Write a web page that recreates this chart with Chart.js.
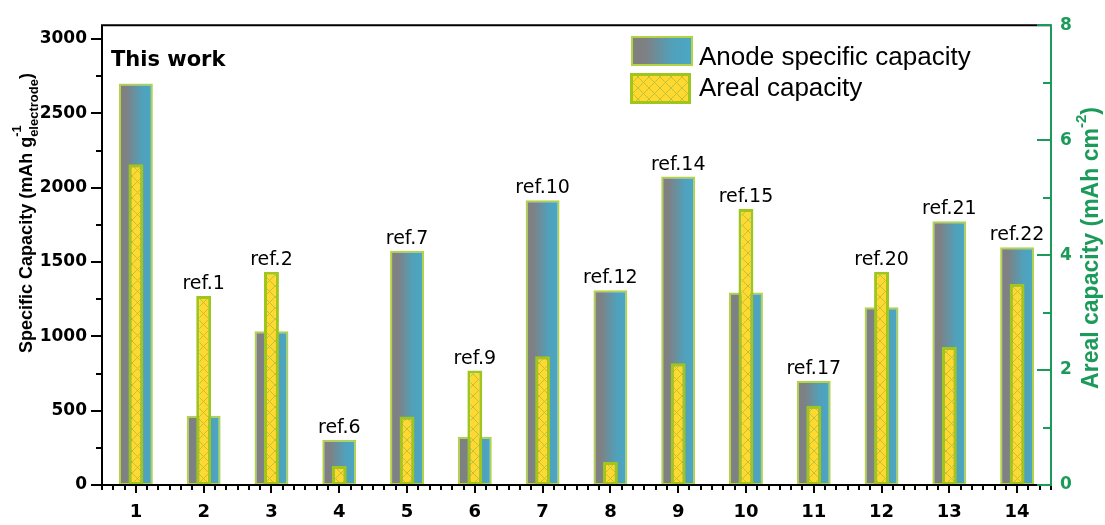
<!DOCTYPE html>
<html>
<head>
<meta charset="utf-8">
<script src="https://cdn.jsdelivr.net/npm/chart.js@4.4.1/dist/chart.umd.min.js"></script>
<style>
  html, body { margin: 0; padding: 0; background: #ffffff; }
  #wrap { width: 1105px; height: 525px; }
</style>
</head>
<body>
<div id="wrap"><canvas id="chart" width="1105" height="525"></canvas></div>
<script>
// Samples compared on the x axis
const samples = ['1', '2', '3', '4', '5', '6', '7', '8', '9', '10', '11', '12', '13', '14'];
// Anode specific capacity, mAh g^-1 (electrode)
const anodeCapacity = [2700, 465, 1035, 305, 1575, 325, 1915, 1310, 2075, 1295, 700, 1195, 1775, 1600];
// Areal capacity, mAh cm^-2
const arealCapacity = [5.58, 3.29, 3.71, 0.33, 1.19, 1.99, 2.24, 0.40, 2.12, 4.80, 1.38, 3.71, 2.40, 3.50];
// Source of each sample
const sourceLabels = ['This work', 'ref.1', 'ref.2', 'ref.6', 'ref.7', 'ref.9', 'ref.10', 'ref.12', 'ref.14', 'ref.15', 'ref.17', 'ref.20', 'ref.21', 'ref.22'];
// Axis ticks
const leftTicks = [0, 500, 1000, 1500, 2000, 2500, 3000];
const leftMinorTicks = [250, 750, 1250, 1750, 2250, 2750];
const rightTicks = [0, 2, 4, 6, 8];
const rightMinorTicks = [1, 3, 5, 7];

const GREEN = '#1b9a59';
const SANS = '"DejaVu Sans", sans-serif';
const ARIAL = '"Liberation Sans", Arial, sans-serif';

const canvas = document.getElementById('chart');
const ctx2d = canvas.getContext('2d');

// Cross-hatched yellow fill
function makeHatch() {
  const s = 11;
  const c = document.createElement('canvas');
  c.width = s; c.height = s;
  const g = c.getContext('2d');
  g.fillStyle = '#ffd92f';
  g.fillRect(0, 0, s, s);
  g.strokeStyle = '#c0c23a';
  g.lineWidth = 1;
  g.beginPath();
  g.moveTo(0, 0); g.lineTo(s, s);
  g.moveTo(0, s); g.lineTo(s, 0);
  g.stroke();
  return ctx2d.createPattern(c, 'repeat');
}
const hatch = makeHatch();

function greyBlue(ctx, x0, x1) {
  const g = ctx.createLinearGradient(x0, 0, x1, 0);
  g.addColorStop(0, '#808080');
  g.addColorStop(0.22, '#7f8083');
  g.addColorStop(0.68, '#50a1bb');
  g.addColorStop(1, '#4aa7c5');
  return g;
}

const ANODE_PCT = 0.5;
const AREAL_PCT = 0.22;

// Each anode bar gets its own left-to-right grey/blue gradient
function anodeFill(context) {
  const chart = context.chart;
  const xs = chart.scales.x;
  if (!xs || !chart.chartArea || context.dataIndex === undefined) return '#6a95a5';
  const cx = xs.getPixelForValue(context.dataIndex);
  const half = (xs.width / samples.length) * ANODE_PCT / 2;
  if (!isFinite(cx) || !isFinite(half) || half <= 0) return '#6a95a5';
  return greyBlue(chart.ctx, cx - half, cx + half);
}

// Rotated axis title made of [text, font, dy, advance] pieces, centred on (cx, cy)
function rotatedTitle(ctx, cx, cy, pieces, color) {
  ctx.save();
  ctx.translate(cx, cy);
  ctx.rotate(-Math.PI / 2);
  ctx.textAlign = 'left';
  ctx.textBaseline = 'middle';
  ctx.fillStyle = color;
  let total = 0;
  const widths = pieces.map(p => { ctx.font = p.font; const w = ctx.measureText(p.text).width; if (p.advance !== false) total += w; return w; });
  let x = -total / 2;
  pieces.forEach((p, i) => {
    ctx.font = p.font;
    ctx.fillText(p.text, x, p.dy || 0);
    if (p.advance !== false) x += widths[i];
  });
  ctx.restore();
}

const decor = {
  id: 'decor',
  afterDraw(chart) {
    const ctx = chart.ctx;
    const { left, right, top, bottom } = chart.chartArea;
    const xs = chart.scales.x, yl = chart.scales.y, yr = chart.scales.y2;
    ctx.save();
    ctx.lineCap = 'butt';

    // frame: top + left + bottom in black
    ctx.strokeStyle = '#000';
    ctx.lineWidth = 2;
    ctx.beginPath();
    ctx.moveTo(left, top); ctx.lineTo(right, top);
    ctx.moveTo(left, top - 1); ctx.lineTo(left, bottom + 1);
    ctx.moveTo(left - 1, bottom); ctx.lineTo(right, bottom);
    ctx.stroke();

    // left axis ticks (outward)
    ctx.beginPath();
    leftTicks.forEach(v => { const y = Math.round(yl.getPixelForValue(v)); ctx.moveTo(left - 11, y); ctx.lineTo(left, y); });
    leftMinorTicks.forEach(v => { const y = Math.round(yl.getPixelForValue(v)); ctx.moveTo(left - 6, y); ctx.lineTo(left, y); });
    ctx.stroke();

    // bottom axis ticks: major at each sample, minor every sixth
    const step = xs.width / samples.length;
    ctx.beginPath();
    samples.forEach((s, i) => {
      const cx = xs.getPixelForValue(i);
      ctx.moveTo(Math.round(cx), bottom); ctx.lineTo(Math.round(cx), bottom + 8);
      for (let k = -3; k <= 3; k++) {
        if (k === 0 || (k === -3 && i > 0)) continue;
        const x = Math.round(cx + k * step / 6);
        ctx.moveTo(x, bottom); ctx.lineTo(x, bottom + 5);
      }
    });
    ctx.stroke();

    // right axis in green, ticks pointing inward
    ctx.strokeStyle = GREEN;
    ctx.beginPath();
    ctx.moveTo(right, top - 1); ctx.lineTo(right, bottom + 1);
    rightTicks.forEach(v => { const y = Math.round(yr.getPixelForValue(v)); ctx.moveTo(right - 14, y); ctx.lineTo(right, y); });
    rightMinorTicks.forEach(v => { const y = Math.round(yr.getPixelForValue(v)); ctx.moveTo(right - 8, y); ctx.lineTo(right, y); });
    ctx.stroke();

    // source labels above each pair of bars
    ctx.fillStyle = '#000';
    ctx.font = '19px ' + SANS;
    ctx.textAlign = 'center';
    ctx.textBaseline = 'alphabetic';
    const mA = chart.getDatasetMeta(1), mB = chart.getDatasetMeta(0);
    sourceLabels.forEach((lab, i) => {
      if (i === 0) return;
      const topY = Math.min(mA.data[i].y, mB.data[i].y);
      ctx.fillText(lab, xs.getPixelForValue(i), topY - 7);
    });
    ctx.textAlign = 'left';
    ctx.font = 'bold 21px ' + SANS;
    ctx.fillText(sourceLabels[0], left + 9, top + 41);

    // legend
    ctx.lineJoin = 'miter';
    ctx.fillStyle = greyBlue(ctx, 632, 692);
    ctx.fillRect(632, 37, 60, 28);
    ctx.strokeStyle = '#b2d344';
    ctx.lineWidth = 2;
    ctx.strokeRect(632, 37, 60, 28);
    ctx.fillStyle = hatch;
    ctx.fillRect(631, 74, 59, 29);
    ctx.strokeStyle = '#a0c51d';
    ctx.lineWidth = 3;
    ctx.strokeRect(631.5, 74.5, 58, 28);
    ctx.fillStyle = '#000';
    ctx.font = '26px ' + ARIAL;
    ctx.fillText('Anode specific capacity', 699, 65);
    ctx.fillText('Areal capacity', 699, 96);

    // axis titles
    const lMain = 'bold 18px ' + ARIAL, lSmall = 'bold 13px ' + ARIAL;
    rotatedTitle(ctx, 27, 213, [
      { text: 'Specific Capacity (mAh g', font: lMain },
      { text: '-1', font: lSmall, dy: -10, advance: false },
      { text: 'electrode', font: lSmall, dy: 7 },
      { text: ')', font: lMain }
    ], '#000');

    const rMain = 'bold 23px ' + ARIAL, rSmall = 'bold 15px ' + ARIAL;
    rotatedTitle(ctx, 1092, 248, [
      { text: 'Areal capacity (mAh cm', font: rMain },
      { text: '-2', font: rSmall, dy: -10 },
      { text: ')', font: rMain }
    ], GREEN);

    ctx.restore();
  }
};

new Chart(canvas, {
  type: 'bar',
  data: {
    labels: samples,
    datasets: [
      {
        label: 'Areal capacity',
        data: arealCapacity,
        yAxisID: 'y2',
        order: 1,
        grouped: false,
        barPercentage: AREAL_PCT,
        categoryPercentage: 1,
        backgroundColor: hatch,
        borderColor: '#a0c51d',
        borderWidth: 3,
        borderSkipped: false
      },
      {
        label: 'Anode specific capacity',
        data: anodeCapacity,
        yAxisID: 'y',
        order: 2,
        grouped: false,
        barPercentage: ANODE_PCT,
        categoryPercentage: 1,
        backgroundColor: anodeFill,
        borderColor: '#b2d344',
        borderWidth: 2,
        borderSkipped: false
      }
    ]
  },
  options: {
    responsive: false,
    devicePixelRatio: 1,
    animation: false,
    events: [],
    layout: { padding: { top: 21, left: 0, right: 0, bottom: 0 } },
    plugins: { legend: { display: false }, tooltip: { enabled: false } },
    scales: {
      x: {
        type: 'category',
        offset: true,
        grid: { display: false, drawTicks: false },
        border: { display: false },
        ticks: { color: '#000', font: { family: SANS, weight: 'bold', size: 18 }, padding: 17, maxRotation: 0, autoSkip: false },
        afterFit(s) { s.height = 40; }
      },
      y: {
        position: 'left',
        min: 0,
        max: 3093,
        afterBuildTicks(s) { s.ticks = leftTicks.map(v => ({ value: v })); },
        grid: { display: false, drawTicks: false },
        border: { display: false },
        ticks: { color: '#000', font: { family: SANS, weight: 'bold', size: 17 }, padding: 15, callback: v => String(v) },
        afterFit(s) { s.width = 102; }
      },
      y2: {
        position: 'right',
        min: 0,
        max: 8,
        afterBuildTicks(s) { s.ticks = rightTicks.map(v => ({ value: v })); },
        grid: { display: false, drawTicks: false },
        border: { display: false },
        ticks: { color: GREEN, font: { family: SANS, weight: 'bold', size: 17 }, padding: 9, callback: v => String(v) },
        afterFit(s) { s.width = 54; }
      }
    }
  },
  plugins: [decor]
});
</script>
</body>
</html>
